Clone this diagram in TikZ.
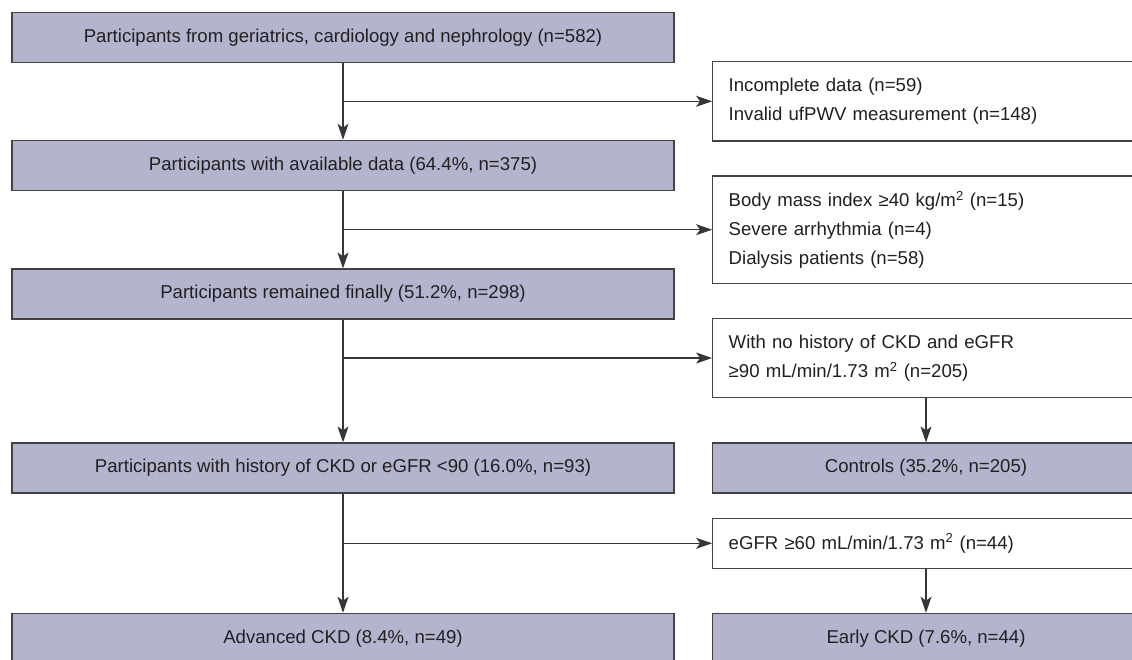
\documentclass[tikz,border=0pt]{standalone}
\usepackage{fontspec}
\setmainfont{Liberation Sans}
\usetikzlibrary{arrows.meta}
\definecolor{boxfill}{HTML}{B3B5CE}
\definecolor{ink}{HTML}{231F20}

\begin{document}
\begin{tikzpicture}[x=1pt,y=-1pt,font=\fontsize{18.6}{29}\selectfont,text=ink,
  main/.style={rectangle,draw=ink!85,line width=1.2pt,fill=boxfill,minimum width=#1,minimum height=50pt,inner sep=0pt},
  side/.style={rectangle,draw=ink!85,line width=1.2pt,fill=white,text width=394.6pt,inner xsep=16pt,inner ysep=0pt,align=left,minimum height=#1},
  flow/.style={draw=ink!90,line width=1.1pt,-{Stealth[length=16pt,width=11pt,inset=4pt]}}]
\useasboundingbox (0,0) rectangle (1132,660);
\clip (0,0) rectangle (1132,660);
\node [main=662pt] (p0) at (343,37.7) {Participants from geriatrics, cardiology and nephrology (n=582)};
\node [main=662pt] (p1) at (343,165.3) {Participants with available data (64.4\%, n=375)};
\node [main=662pt] (p2) at (343,294) {Participants remained finally (51.2\%, n=298)};
\node [main=662pt] (ckd) at (343,468) {Participants with history of CKD or eGFR <90 (16.0\%, n=93)};
\node [main=662pt] (adv) at (343,638.3) {Advanced CKD (8.4\%, n=49)};
\node [side=79.3pt] (x1) at (926,101.3) {Incomplete data (n=59)\\Invalid ufPWV measurement (n=148)};
\node [side=107.3pt] (x2) at (926,229.7) {Body mass index ≥40 kg/m\textsuperscript{2} (n=15)\\Severe arrhythmia (n=4)\\Dialysis patients (n=58)};
\node [side=79.4pt] (x3) at (926,358) {With no history of CKD and eGFR\\≥90 mL/min/1.73 m\textsuperscript{2} (n=205)};
\node [main=426.6pt] (ctl) at (926,468) {Controls (35.2\%, n=205)};
\node [side=50pt] (x4) at (926,543.3) {eGFR ≥60 mL/min/1.73 m\textsuperscript{2} (n=44)};
\node [main=426.6pt] (early) at (926,638.3) {Early CKD (7.6\%, n=44)};
\coordinate (b1) at (p0 |- x1);
\coordinate (b2) at (p1 |- x2);
\coordinate (b3) at (p2 |- x3);
\coordinate (b4) at (ckd |- x4);
\draw [flow] (p0) -- (p1);
\draw [flow] (p1) -- (p2);
\draw [flow] (p2) -- (ckd);
\draw [flow] (ckd) -- (adv);
\draw [flow] (b1) -- (x1);
\draw [flow] (b2) -- (x2);
\draw [flow] (b3) -- (x3);
\draw [flow] (b4) -- (x4);
\draw [flow] (x3) -- (ctl);
\draw [flow] (x4) -- (early);
\end{tikzpicture}
\end{document}
